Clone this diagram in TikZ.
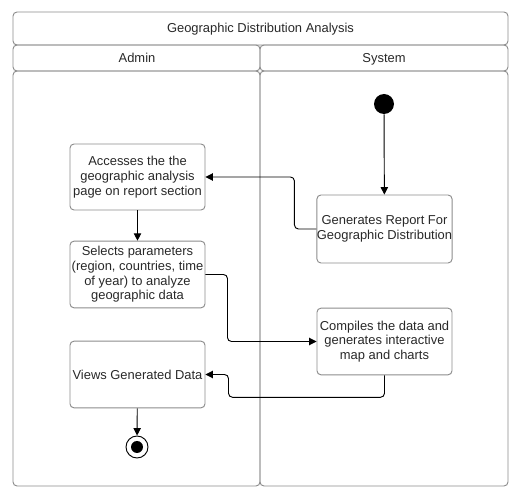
\documentclass[tikz,border=0pt]{standalone}
\usepackage{fontspec}
\setmainfont{Liberation Sans}
\usetikzlibrary{arrows.meta}
\definecolor{laneline}{RGB}{140,140,140}
\definecolor{txtgray}{RGB}{40,40,40}
\tikzset{
  lane/.style={draw=laneline, line width=0.7pt, rounded corners=3pt},
  lanetext/.style={text=txtgray, font=\fontsize{9.7}{11}\selectfont, anchor=base, inner sep=0pt},
  act/.style={draw=laneline, line width=0.7pt, rounded corners=3pt, align=center,
    minimum width=101.25pt, minimum height=50pt, inner xsep=0pt, inner ysep=1pt, text=txtgray,
    font=\fontsize{9.7}{11}\selectfont},
  flow/.style={draw=black, line width=0.7pt, rounded corners=3pt,
    -{Triangle[length=5.5pt,width=5.5pt]}},
}
\begin{document}
\begin{tikzpicture}[x=0.75pt,y=0.75pt,yscale=-1,xscale=1]
\useasboundingbox (0,0) rectangle (519,499);

%Shape: Swimlane pool
	\draw [lane] (13,12) rectangle (508,45) ;
	\draw [lane] (13,45) rectangle (260,71) ;
	\draw [lane] (260,45) rectangle (508,71) ;
	\draw [lane] (13,71) rectangle (260,486) ;
	\draw [lane] (260,71) rectangle (508,486) ;

% Text Node
	\node [lanetext] (title) at (260.5,33) {Geographic Distribution Analysis};
% Text Node
	\node [lanetext] (admin) at (137,62.5) {Admin};
% Text Node
	\node [lanetext] (system) at (384,62.5) {System};

%Shape: Initial / final states
	\node [circle, fill=black, minimum size=15pt, inner sep=0pt] (start) at (384,104) {};
	\node [circle, draw=black, line width=0.7pt, minimum size=16.5pt, inner sep=0pt] (end) at (137,447) {};
	\fill (end) circle (4.5pt) ;

%Shape: Activities
	\node [act, minimum height=49.5pt] (access) at (137.5,177) {Accesses the the\\geographic analysis\\page on report section};
	\node [act] (select) at (137.5,274.5) {Selects parameters\\(region, countries, time\\of year) to analyze\\geographic data};
	\node [act] (view) at (137.5,374.5) {Views Generated Data};
	\node [act, minimum height=51pt] (report) at (384.5,229) {Generates Report For\\Geographic Distribution};
	\node [act] (compile) at (384.5,341.5) {Compiles the data and\\generates interactive\\map and charts};

%Straight Lines
	\draw [flow] (start) -- (report) ;
	\draw [flow] (report.west) -- ++(-22,0) |- (access.east) ;
	\draw [flow] (access) -- (select) ;
	\draw [flow] (select.east) -- ++(22,0) |- (compile.west) ;
	\draw [flow] (compile.south) |- ++(-156,22) |- (view.east) ;
	\draw [flow] (view) -- (end) ;

\end{tikzpicture}
\end{document}
